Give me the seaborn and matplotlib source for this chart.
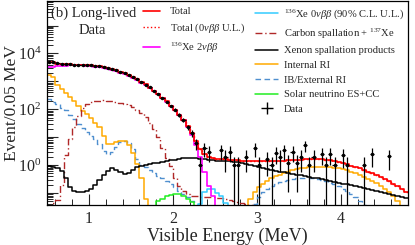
import numpy as np
import matplotlib
matplotlib.use('Agg')
import matplotlib.pyplot as plt
import seaborn as sns
from matplotlib.lines import Line2D
from matplotlib.ticker import FixedLocator, MultipleLocator, NullFormatter, LogFormatterSciNotation

# bin width of all histograms (MeV)
BIN = 0.05

# values are log10(events / 0.05 MeV), one per bin
total_start = 0.50
total_log = [3.71, 3.69, 3.64, 3.62, 3.61, 3.61, 3.60, 3.59, 3.59, 3.59,
             3.58, 3.56, 3.54, 3.51, 3.48, 3.44, 3.40, 3.35, 3.29, 3.23,
             3.16, 3.08, 2.98, 2.89, 2.78, 2.67, 2.54, 2.41, 2.28, 2.13,
             1.98, 1.81, 1.62, 1.39, 1.14, 0.85, 0.58, 0.40, 0.30, 0.26,
             0.23, 0.22, 0.21, 0.20, 0.19, 0.18, 0.16, 0.15, 0.14, 0.13,
             0.13, 0.13, 0.13, 0.14, 0.14, 0.15, 0.16, 0.17, 0.18, 0.19,
             0.20, 0.21, 0.22, 0.22, 0.22, 0.21, 0.20, 0.18, 0.15, 0.11,
             0.07, 0.03, -0.02, -0.07, -0.12, -0.18, -0.24, -0.30, -0.36, -0.42,
             -0.50, -0.58, -0.66, -0.75, -0.84, -0.95]

xe2v_start = 0.50
xe2v_log = [3.50, 3.52, 3.54, 3.55, 3.56, 3.57, 3.57, 3.57, 3.57, 3.56,
            3.55, 3.53, 3.51, 3.48, 3.45, 3.41, 3.36, 3.31, 3.25, 3.19,
            3.12, 3.04, 2.95, 2.86, 2.76, 2.65, 2.53, 2.40, 2.27, 2.12,
            1.97, 1.80, 1.60, 1.36, 1.08, 0.72, 0.30, -0.25, -0.75, -1.10,
            -1.50, -2.5]

xe0v_start = 2.25
xe0v_log = [-2.5, -1.40, -0.98, -0.85, -0.86, -1.00, -1.12, -1.35, -2.5]

carbon_start = 0.50
carbon_log = [-2.5, -1.35, -1.25, -0.70, 0.35, 0.95, 1.35, 1.75, 2.05, 2.18,
              2.26, 2.29, 2.31, 2.32, 2.31, 2.29, 2.27, 2.24, 2.20, 2.15,
              2.08, 1.98, 1.85, 1.72, 1.50, 1.30, 1.00, 0.60, 0.25, -0.05,
              -0.45, -0.75, -0.92, -1.05, -1.10, -1.12, -1.13, -1.14, -1.15, -1.16,
              -1.17, -1.19, -1.21, -1.24, -1.27, -1.31, -1.35, -1.39, -1.43, -1.48,
              -2.5]

xespall_start = 0.50
xespall_log = [-0.05, -0.08, -0.12, -0.22, -0.45, -0.80, -0.92, -0.95, -0.96, -0.92,
               -0.85, -0.70, -0.52, -0.35, -0.20, -0.12, -0.18, -0.26, -0.32, -0.28,
               -0.18, -0.08, -0.02, 0.02, 0.04, 0.06, 0.08, 0.11, 0.14, 0.17,
               0.20, 0.22, 0.24, 0.25, 0.25, 0.24, 0.23, 0.22, 0.20, 0.18,
               0.16, 0.15, 0.14, 0.13, 0.12, 0.10, 0.07, 0.03, -0.01, -0.05,
               -0.08, -0.11, -0.14, -0.17, -0.20, -0.23, -0.26, -0.29, -0.32, -0.34,
               -0.37, -0.40, -0.43, -0.46, -0.48, -0.51, -0.54, -0.57, -0.60, -0.63,
               -0.66, -0.69, -0.72, -0.75, -0.78, -0.82, -0.85, -0.88, -0.92, -0.95,
               -0.99, -1.02, -1.06, -1.10, -1.14, -1.18]

internal_lo_start = 0.50
internal_lo_log = [3.24, 3.15, 2.88, 2.72, 2.58, 2.45, 2.28, 2.12, 1.95, 1.82,
                   1.68, 1.52, 1.35, 1.05, 0.76, 0.74, 0.84, 0.88, 0.86, 0.72,
                   0.45, 0.05, -0.45, -1.20, -2.5]
internal_hi_start = 2.85
internal_hi_log = [-2.5, -1.20, -0.95, -0.80, -0.68, -0.57, -0.48, -0.40, -0.34, -0.28,
                   -0.23, -0.19, -0.15, -0.12, -0.10, -0.08, -0.07, -0.06, -0.06, -0.07,
                   -0.08, -0.10, -0.12, -0.15, -0.19, -0.24, -0.29, -0.35, -0.42, -0.49,
                   -0.57, -0.65, -0.74, -0.84, -0.96, -1.12, -1.30, -2.5]

external_lo_start = 0.50
external_lo_log = [2.37, 2.25, 2.18, 2.06, 1.96, 1.80, 1.66, 1.48, 1.32, 1.18,
                   1.06, 0.92, 0.74, 0.52, 0.38, 0.48, 0.66, 0.82, 0.88, 0.80,
                   0.56, 0.22, 0.02, -0.08, -0.18, -0.28, -0.38, -0.48, -0.58, -0.68,
                   -0.80, -0.92, -1.04, -1.16, -1.30, -1.45, -2.5]
external_hi_start = 2.90
external_hi_log = [-2.5, -1.40, -1.15, -0.98, -0.86, -0.76, -0.68, -0.62, -0.56, -0.52,
                   -0.49, -0.47, -0.46, -0.46, -0.47, -0.48, -0.51, -0.54, -0.58, -0.63,
                   -0.69, -0.76, -0.84, -0.93, -1.03, -1.15, -1.28, -1.42, -2.5]

solar_start = 1.75
solar_log = [-2.5, -1.28, -1.20, -1.12, -1.07, -1.04, -1.05, -1.10, -1.20, -1.32, -2.5]

# data: bin centres (MeV) and events / 0.05 MeV
data_e = [0.525, 0.575, 0.625, 0.675, 0.725, 0.775, 0.825, 0.875, 0.925, 0.975,
          1.025, 1.075, 1.125, 1.175, 1.225, 1.275, 1.325, 1.375, 1.425, 1.475,
          1.525, 1.575, 1.625, 1.675, 1.725, 1.775, 1.825, 1.875, 1.925, 1.975,
          2.025, 2.075, 2.125, 2.175, 2.225, 2.275,
          2.325, 2.375, 2.425, 2.575, 2.625, 2.675, 2.725, 2.775, 2.875, 2.975,
          3.025, 3.125, 3.175, 3.225, 3.275, 3.325, 3.375, 3.425, 3.475, 3.525,
          3.575, 3.625, 3.675, 3.775, 3.825, 3.875, 3.925, 4.025, 4.075, 4.275,
          4.375, 4.575]
data_n = [5150, 4870, 4400, 4150, 4090, 4060, 3990, 3900, 3920, 3880,
          3790, 3640, 3460, 3260, 3010, 2780, 2500, 2220, 1960, 1700,
          1460, 1190, 970, 770, 610, 470, 345, 260, 185, 136,
          97, 63, 43, 23, 14, 6,
          1, 4, 3, 3.4, 2, 3, 1, 1, 2, 4,
          1, 1.7, 1, 2.7, 2, 3.4, 1.2, 3, 1.2, 2,
          5.2, 1, 2, 2.6, 1, 2.6, 1, 2.3, 1, 1,
          2.4, 2.1]

RED = '#ff0000'
MAGENTA = '#ff00ff'
CYAN = '#33ccff'
CARBON = '#b02828'
ORANGE = '#ffaa00'
STEEL = '#4f8fcf'
GREEN = '#22ee22'

sns.set_style('ticks')
plt.rcParams['font.family'] = 'serif'
plt.rcParams['font.serif'] = ['Liberation Serif', 'DejaVu Serif']
plt.rcParams['mathtext.fontset'] = 'custom'
plt.rcParams['mathtext.rm'] = 'Liberation Serif'
plt.rcParams['mathtext.it'] = 'Liberation Serif:italic'

fig = plt.figure(figsize=(4.15, 2.45), dpi=100)
ax = fig.add_axes([47 / 415, 40 / 245, 361 / 415, 204 / 245])


def hist(start, logvals, **kw):
    vals = 10.0 ** np.asarray(logvals)
    edges = start + BIN * np.arange(len(vals) + 1)
    y = np.append(vals, vals[-1])
    sns.lineplot(x=edges, y=y, drawstyle='steps-post', ax=ax, errorbar=None, **kw)


dashed = (0, (4, 2.5))
dashdot = (0, (5, 2, 1, 2))

hist(external_lo_start, external_lo_log, color=STEEL, lw=1.0, linestyle=dashed)
hist(external_hi_start, external_hi_log, color=STEEL, lw=1.0, linestyle=dashed)
hist(internal_lo_start, internal_lo_log, color=ORANGE, lw=1.1)
hist(internal_hi_start, internal_hi_log, color=ORANGE, lw=1.1)
hist(solar_start, solar_log, color=GREEN, lw=1.1)
hist(carbon_start, carbon_log, color=CARBON, lw=1.0, linestyle=dashdot)
hist(xespall_start, xespall_log, color='black', lw=1.1)
hist(xe0v_start, xe0v_log, color=CYAN, lw=1.1)
hist(xe2v_start, xe2v_log, color=MAGENTA, lw=1.2)
hist(total_start, total_log, color=RED, lw=1.2)
hist(total_start, total_log, color=RED, lw=1.0, linestyle=':')

x = np.array(data_e)
n = np.array(data_n, dtype=float)
err = np.sqrt(n)
lo = np.minimum(err, n * 0.9999)
ax.errorbar(x, n, yerr=[lo, err], xerr=BIN / 2, fmt='o', ms=1.5, color='black',
            elinewidth=0.9, capsize=0, zorder=5)

ax.set_yscale('log')
ax.set_xlim(0.5, 4.8)
ax.set_ylim(10 ** -1.43, 10 ** 5.88)

ax.xaxis.set_major_locator(FixedLocator([1, 2, 3, 4]))
ax.xaxis.set_minor_locator(MultipleLocator(0.2))
ax.yaxis.set_major_locator(FixedLocator([1e-1, 1e0, 1e1, 1e2, 1e3, 1e4, 1e5]))
minors = [m * 10.0 ** d for d in range(-2, 6) for m in range(2, 10)]
ax.yaxis.set_minor_locator(FixedLocator(minors))
ax.yaxis.set_minor_formatter(NullFormatter())
fmt = LogFormatterSciNotation()
ax.set_yticklabels(['', fmt(1e0), '', fmt(1e2), '', fmt(1e4), ''])

ax.tick_params(axis='both', which='major', direction='in', length=8, width=0.8,
               labelsize=11.5, pad=4)
ax.tick_params(axis='both', which='minor', direction='in', length=4, width=0.7)
for s in ax.spines.values():
    s.set_linewidth(0.9)
    s.set_color('black')

ax.set_xlabel('Visible Energy (MeV)', fontsize=13, labelpad=1)
ax.set_ylabel('Event/0.05 MeV', fontsize=12.5)
ax.yaxis.set_label_coords(-0.075, 0.5)

ax.text(0.011, 0.94, '(b) Long-lived', transform=ax.transAxes, fontsize=10.5,
        ha='left', va='center')
ax.text(0.125, 0.855, 'Data', transform=ax.transAxes, fontsize=10.5,
        ha='center', va='center')

h1 = [Line2D([], [], color=RED, lw=1.2),
      Line2D([], [], color=RED, lw=1.0, linestyle=':'),
      Line2D([], [], color=MAGENTA, lw=1.2)]
l1 = ['Total', 'Total (0$\\nu\\beta\\beta$ U.L.)', '$^{136}$Xe 2$\\nu\\beta\\beta$']
h2 = [Line2D([], [], color=CYAN, lw=1.1),
      Line2D([], [], color=CARBON, lw=1.0, linestyle=dashdot),
      Line2D([], [], color='black', lw=1.1),
      Line2D([], [], color=ORANGE, lw=1.1),
      Line2D([], [], color=STEEL, lw=1.0, linestyle=dashed),
      Line2D([], [], color=GREEN, lw=1.1),
      Line2D([], [], color='black', lw=0, marker='+', ms=9, mew=1.0)]
l2 = ['$^{136}$Xe 0$\\nu\\beta\\beta$ (90% C.L. U.L.)',
      'Carbon spallation + $^{137}$Xe',
      'Xenon spallation products',
      'Internal RI',
      'IB/External RI',
      'Solar neutrino ES+CC',
      'Data']

leg1 = ax.legend(h1, l1, loc='upper left', bbox_to_anchor=(143 / 415, 1 - 7 / 245),
                 bbox_transform=fig.transFigure, frameon=False, fontsize=7.6,
                 handlelength=1.6, handletextpad=0.95, labelspacing=0.5,
                 borderpad=0, borderaxespad=0)
ax.add_artist(leg1)
ax.legend(h2, l2, loc='upper left', bbox_to_anchor=(255 / 415, 1 - 7 / 245),
          bbox_transform=fig.transFigure, frameon=False, fontsize=7.6,
          handlelength=2.2, handletextpad=0.5, labelspacing=0.5,
          borderpad=0, borderaxespad=0)

fig.savefig('out.png', dpi=100)
